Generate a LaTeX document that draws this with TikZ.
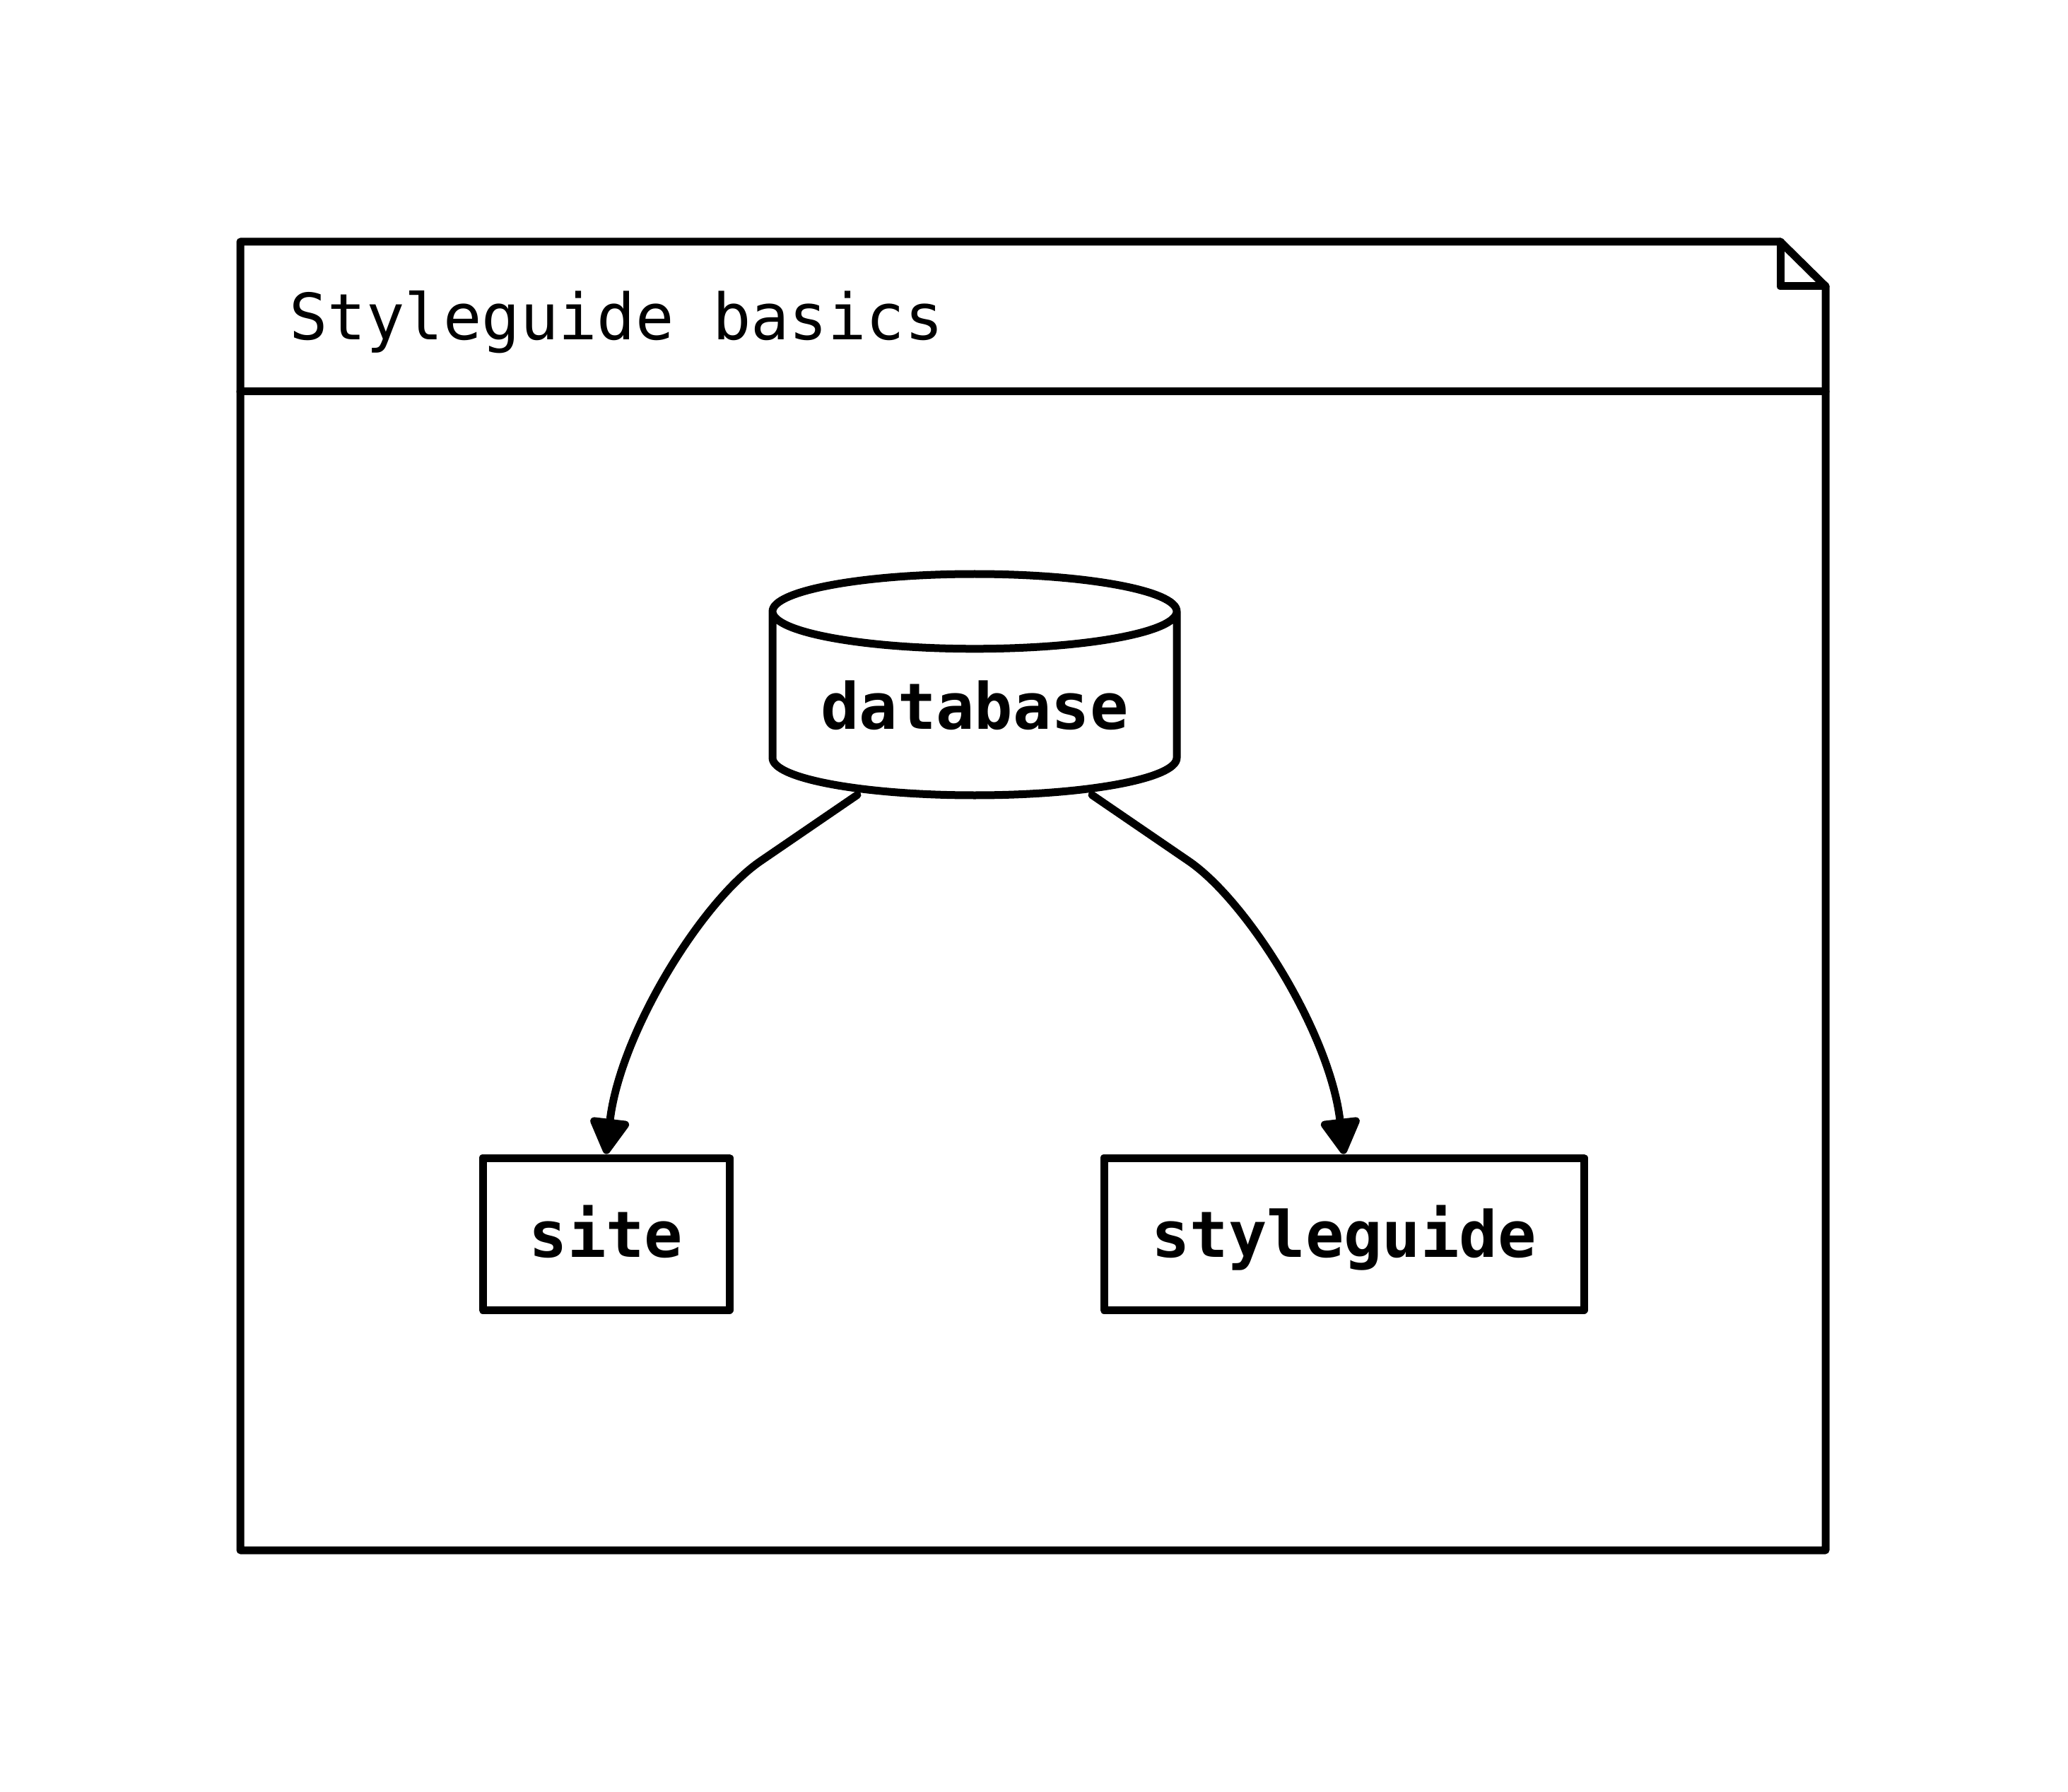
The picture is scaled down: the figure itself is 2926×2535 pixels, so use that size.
\documentclass[tikz,border=0pt]{standalone}
\usepackage{fontspec}
\setmonofont{DejaVu Sans Mono}
\usetikzlibrary{shapes.geometric,arrows.meta,calc}

\tikzset{every picture/.style={line width=2.75pt}}
\tikzset{
  labelfont/.style={font=\ttfamily\bfseries\fontsize{22.6}{27}\selectfont},
  pkgbox/.style={draw, rectangle, labelfont, inner sep=0pt, minimum height=53.75pt,
    text height=21.25pt, text depth=5pt},
  dbshape/.style={draw, cylinder, shape border rotate=90, aspect=0.243, labelfont,
    inner sep=0pt, minimum width=143pt, minimum height=78.25pt},
  flow/.style={-{Triangle[width=15pt,length=14pt,round]}}
}

\begin{document}
\begin{tikzpicture}[x=0.25pt,y=0.25pt,yscale=-1,xscale=1,line join=round,line cap=round]
\useasboundingbox (0,0) rectangle (2926,2535);

%Frame with folded corner
\draw   (340,342) -- (2519,342) -- (2583,405) -- (2583,2193) -- (340,2193) -- cycle ;
\draw   (2519,342) -- (2519,405) -- (2583,405) ;
%Header line
\draw   (340,554) -- (2583,554) ;

% Text Node
\node (title) [anchor=base west, inner sep=0pt, font=\ttfamily\fontsize{22.6}{27}\selectfont] at (404,481) {Styleguide basics};

%Cylinder
\node (database) [dbshape, anchor=shape center] at (1379,968.5) {database};

%Boxes
\node (site) [pkgbox, minimum width=87.25pt] at (857.5,1745.5) {site};
\node (styleguide) [pkgbox, minimum width=169.75pt] at (1901.5,1745.5) {styleguide};

%Curved Lines
\draw [flow] ($(database.shape center)+(-166,156)$) -- ++(-136,93) .. controls +(-83,56) and +(20,-172) .. (site.north) ;
\draw [flow] ($(database.shape center)+(166,156)$) -- ++(136,93) .. controls +(83,56) and +(-20,-172) .. (styleguide.north) ;

\end{tikzpicture}
\end{document}
